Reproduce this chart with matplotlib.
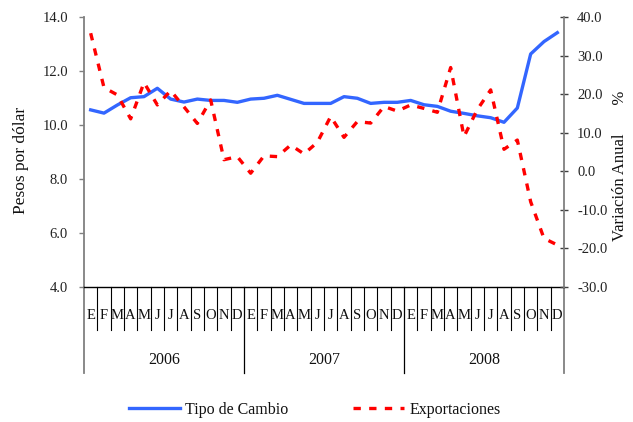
import numpy as np
import matplotlib
matplotlib.use("Agg")
import matplotlib.pyplot as plt

# ---- data ----
months = ["E", "F", "M", "A", "M", "J", "J", "A", "S", "O", "N", "D"]
years = ["2006", "2007", "2008"]
tipo_cambio = [10.56, 10.44, 10.74, 11.01, 11.05, 11.36, 10.96, 10.85, 10.96, 10.91, 10.91, 10.84,
               10.96, 10.99, 11.10, 10.95, 10.80, 10.80, 10.80, 11.05, 10.99, 10.80, 10.84, 10.84,
               10.91, 10.75, 10.69, 10.51, 10.43, 10.34, 10.27, 10.10, 10.63, 12.63, 13.09, 13.42]
exportaciones = [35.8, 21.7, 19.8, 13.6, 23.0, 17.2, 20.9, 16.7, 12.4, 18.5, 3.0, 3.8,
                 -0.5, 4.0, 3.8, 6.8, 4.5, 7.5, 14.2, 8.8, 12.9, 12.5, 16.8, 15.6,
                 17.2, 16.3, 15.3, 26.9, 9.0, 16.0, 21.1, 5.7, 8.1, -7.9, -17.4, -19.1]
left_ticks = [4.0, 6.0, 8.0, 10.0, 12.0, 14.0]
right_ticks = [-30.0, -20.0, -10.0, 0.0, 10.0, 20.0, 30.0, 40.0]

plt.rcParams['font.family'] = ['Liberation Serif', 'DejaVu Serif']
W, H = 633, 422
fig = plt.figure(figsize=(W / 100, H / 100), dpi=100)
ax = fig.add_axes([84 / W, 1 - 287 / H, 480 / W, 270 / H])

n = len(tipo_cambio)
x = np.arange(n) + 0.5
blue = '#3366FF'
red = '#FF0000'
l1, = ax.plot(x, tipo_cambio, color=blue, lw=2.4, solid_joinstyle='round')
ax.set_xlim(0, n)
ax.set_ylim(4, 14)
ax.set_yticks(left_ticks)
ax.set_yticklabels([f"{v:.1f}" for v in left_ticks])
ax.set_xticks([])
ax.tick_params(axis='y', direction='out', length=3.6, width=1, color='#808080',
               pad=8, labelsize=10.5, labelcolor='#222222')

ax2 = ax.twinx()
l2, = ax2.plot(x, exportaciones, color=red, lw=2.4, ls=(0, (2.2, 2.5)))
ax2.set_ylim(-30, 40)
ax2.set_yticks(right_ticks)
ax2.set_yticklabels([f"{v:.1f}" for v in right_ticks])
ax2.tick_params(axis='y', direction='inout', length=5.8, width=1, color='#404040',
                pad=6.5, labelsize=10.5, labelcolor='#222222')

for a in (ax, ax2):
    a.spines['top'].set_visible(False)
ax.spines['right'].set_visible(False)
ax2.spines['left'].set_visible(False)
ax2.spines['bottom'].set_visible(False)
ax.spines['left'].set_color('#808080')
ax.spines['left'].set_linewidth(1.3)
ax2.spines['right'].set_color('#808080')
ax2.spines['right'].set_linewidth(1.3)
ax.spines['bottom'].set_color('#000000')
ax.spines['bottom'].set_linewidth(1.0)

# category axis
trans = ax.get_xaxis_transform()
for i in range(n + 1):
    if i % 12 == 0:
        col = '#808080' if i in (0, n) else '#000000'
        lw = 1.3 if i in (0, n) else 0.9
        ax.plot([i, i], [0, -0.319], color=col, lw=lw, transform=trans, clip_on=False)
    else:
        ax.plot([i, i], [0, -0.159], color='#000000', lw=0.8, transform=trans, clip_on=False)
for i in range(n):
    ax.text(i + 0.5, -0.104, months[i % 12], ha='center', va='center', transform=trans,
            fontsize=10.5, color='#111111')
for k, yr in enumerate(years):
    ax.text(12 * k + 6, -0.272, yr, ha='center', va='center', transform=trans,
            fontsize=11.5, color='#111111')

fig.text(13 / W, 1 - 160 / H, "Pesos por dólar", rotation=90, ha='left', va='center',
         fontsize=12.5, color='#111111')
fig.text(612 / W, 1 - 166 / H, "Variación Anual       %", rotation=90, ha='left', va='center',
         fontsize=12, color='#111111')

fig.legend([l1, l2], ["Tipo de Cambio", "Exportaciones"], loc='center',
           bbox_to_anchor=(0.497, 1 - 410 / H), ncol=2, frameon=False,
           fontsize=11.5, handlelength=3.2, handletextpad=0.3, columnspacing=4.1,
           labelcolor='#111111')

fig.savefig("out.png", dpi=100)
